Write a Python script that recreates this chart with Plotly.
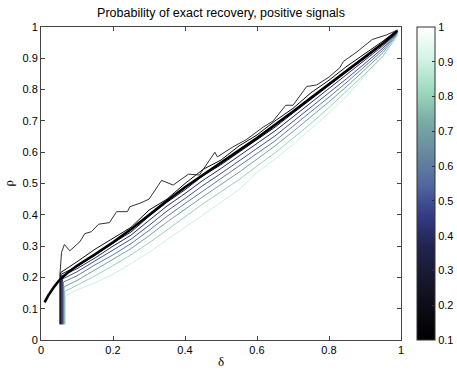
import plotly.graph_objects as go
from plotly.colors import sample_colorscale

# theoretical phase transition (thick black curve)
bc_delta = [0.01, 0.02, 0.035, 0.05, 0.075, 0.1, 0.15, 0.2, 0.25, 0.3, 0.35, 0.4, 0.45,
            0.5, 0.55, 0.6, 0.65, 0.7, 0.75, 0.8, 0.85, 0.9, 0.95, 0.99]
bc_rho = [0.12, 0.142, 0.168, 0.19, 0.216, 0.237, 0.274, 0.312, 0.354, 0.40, 0.445, 0.488, 0.528,
          0.568, 0.606, 0.645, 0.687, 0.73, 0.774, 0.818, 0.861, 0.905, 0.948, 0.988]

# 0.1 probability contour (top, darkest line)
top_delta = [0.052, 0.052, 0.057, 0.065, 0.08, 0.108, 0.122, 0.14, 0.16, 0.19, 0.21, 0.24, 0.247,
             0.275, 0.30, 0.335, 0.367, 0.41, 0.44, 0.483, 0.49, 0.533, 0.57, 0.617, 0.645, 0.68,
             0.70, 0.738, 0.766, 0.80, 0.83, 0.84, 0.877, 0.92, 0.96, 0.99]
top_rho = [0.05, 0.20, 0.28, 0.305, 0.285, 0.314, 0.34, 0.346, 0.37, 0.375, 0.41, 0.41, 0.426,
           0.437, 0.45, 0.51, 0.495, 0.53, 0.527, 0.60, 0.585, 0.617, 0.64, 0.68, 0.70, 0.75,
           0.75, 0.81, 0.815, 0.84, 0.87, 0.89, 0.92, 0.96, 0.975, 0.99]

# remaining contour levels
levels = [0.2, 0.3, 0.4, 0.5, 0.6, 0.7, 0.8, 0.9]
wall_delta = [0.054, 0.056, 0.058, 0.060, 0.062, 0.064, 0.066, 0.068]
wall_top = [0.215, 0.21, 0.205, 0.195, 0.185, 0.17, 0.155, 0.14]
grid_delta = [0.1, 0.15, 0.2, 0.25, 0.3, 0.35, 0.4, 0.45, 0.5, 0.55, 0.6, 0.65, 0.7, 0.75,
              0.8, 0.85, 0.9, 0.95, 0.99]
level_rho = [
    [0.25, 0.29, 0.325, 0.36, 0.415, 0.45, 0.50, 0.545, 0.575, 0.62, 0.655, 0.70, 0.74, 0.79, 0.83, 0.875, 0.915, 0.955, 0.99],
    [0.235, 0.27, 0.31, 0.345, 0.395, 0.44, 0.48, 0.525, 0.56, 0.60, 0.64, 0.68, 0.725, 0.77, 0.812, 0.857, 0.90, 0.945, 0.987],
    [0.228, 0.262, 0.30, 0.335, 0.382, 0.428, 0.468, 0.51, 0.548, 0.588, 0.628, 0.668, 0.713, 0.758, 0.802, 0.848, 0.893, 0.94, 0.985],
    [0.218, 0.252, 0.287, 0.322, 0.366, 0.412, 0.452, 0.494, 0.532, 0.572, 0.612, 0.652, 0.698, 0.743, 0.79, 0.836, 0.884, 0.933, 0.983],
    [0.205, 0.24, 0.272, 0.308, 0.35, 0.395, 0.436, 0.476, 0.515, 0.555, 0.595, 0.636, 0.683, 0.728, 0.776, 0.824, 0.874, 0.926, 0.981],
    [0.19, 0.225, 0.258, 0.292, 0.333, 0.377, 0.418, 0.458, 0.497, 0.536, 0.578, 0.62, 0.666, 0.712, 0.761, 0.811, 0.864, 0.918, 0.978],
    [0.175, 0.205, 0.238, 0.272, 0.31, 0.352, 0.394, 0.435, 0.474, 0.512, 0.556, 0.598, 0.645, 0.692, 0.743, 0.795, 0.85, 0.908, 0.975],
    [0.16, 0.183, 0.21, 0.245, 0.28, 0.32, 0.36, 0.40, 0.44, 0.48, 0.535, 0.578, 0.625, 0.675, 0.725, 0.78, 0.845, 0.905, 0.97],
]

cbar_ticks = [0.1, 0.2, 0.3, 0.4, 0.5, 0.6, 0.7, 0.8, 0.9, 1]

cscale = [
    [0.0, 'rgb(0,0,0)'],
    [0.15, 'rgb(18,18,32)'],
    [0.3, 'rgb(34,36,80)'],
    [0.4, 'rgb(52,60,135)'],
    [0.5, 'rgb(82,105,158)'],
    [0.6, 'rgb(104,138,160)'],
    [0.7, 'rgb(122,172,165)'],
    [0.8, 'rgb(160,218,192)'],
    [0.9, 'rgb(212,244,230)'],
    [1.0, 'rgb(255,255,255)'],
]

def lev_color(v):
    return sample_colorscale(cscale, [(v - 0.1) / 0.9])[0]

font = 'Liberation Sans, Arial, sans-serif'
serif = 'Liberation Serif, Times New Roman, serif'
fig = go.Figure()

# lighter levels first so dark ones sit on top
for lev, wd, wt, rr in reversed(list(zip(levels, wall_delta, wall_top, level_rho))):
    xs = [wd, wd] + grid_delta
    ys = [0.05, wt] + rr
    fig.add_trace(go.Scatter(x=xs, y=ys, mode='lines', line=dict(color=lev_color(lev), width=1),
                             showlegend=False, hoverinfo='skip'))

fig.add_trace(go.Scatter(x=top_delta, y=top_rho, mode='lines', line=dict(color='#333', width=1),
                         showlegend=False, hoverinfo='skip'))

fig.add_trace(go.Scatter(x=bc_delta, y=bc_rho, mode='lines', line=dict(color='black', width=2.6),
                         showlegend=False))

# colour bar only
fig.add_trace(go.Scatter(
    x=bc_delta[:1], y=bc_rho[:1], mode='markers', showlegend=False, hoverinfo='skip',
    marker=dict(size=0.1, opacity=0, color=[0.1], cmin=0.1, cmax=1, colorscale=cscale, showscale=True,
                colorbar=dict(x=1.044, xanchor='left', y=0.5, yanchor='middle', len=1, lenmode='fraction',
                              thickness=18, outlinewidth=1, outlinecolor='#333', xpad=0, ypad=0,
                              tickvals=cbar_ticks, ticks='inside', ticklen=3, tickcolor='#333',
                              tickfont=dict(family=font, size=11, color='black'))),
))

axis_common = dict(range=[0, 1], showgrid=False, zeroline=False, showline=True, linecolor='#444',
                   linewidth=1, mirror='ticks', ticks='inside', ticklen=4, tickcolor='#444',
                   automargin=False, tickfont=dict(family=font, size=11, color='black'))

fig.update_layout(
    width=457, height=371,
    margin=dict(l=41, r=56, t=27, b=31, autoexpand=False),
    paper_bgcolor='white', plot_bgcolor='white',
    title=dict(text='Probability of exact recovery, positive signals', x=0.5, xref='paper',
               xanchor='center', y=358 / 371, yanchor='middle',
               font=dict(family=font, size=12.5, color='black')),
    xaxis=dict(tickvals=[0, 0.2, 0.4, 0.6, 0.8, 1], **axis_common),
    yaxis=dict(tickvals=[0, 0.1, 0.2, 0.3, 0.4, 0.5, 0.6, 0.7, 0.8, 0.9, 1], **axis_common),
    annotations=[
        dict(text='δ', x=0.5, y=0, xref='paper', yref='paper', yanchor='middle', yshift=-21,
             showarrow=False, font=dict(family=serif, size=13, color='black')),
        dict(text='ρ', x=0, y=0.5, xref='paper', yref='paper', xanchor='center', xshift=-33,
             textangle=-90, showarrow=False, font=dict(family=serif, size=13, color='black')),
    ],
)

fig.write_html("out.html", config={'displayModeBar': False},
               post_script="document.body.style.margin='0';")
